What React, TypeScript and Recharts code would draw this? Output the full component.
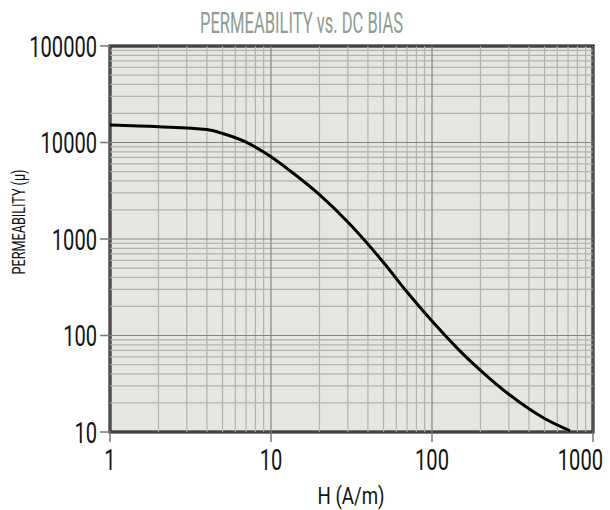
import { LineChart, Line, XAxis, YAxis, CartesianGrid, ReferenceLine, ReferenceArea } from 'recharts'

// H (A/m) vs permeability
const hValues = [1, 2, 4, 5, 7, 10, 13, 20, 30, 40, 50, 70, 100, 150, 200, 300, 400, 500, 720]
const muValues = [15200, 14600, 13600, 12400, 10100, 7100, 5150, 2880, 1500, 885, 570, 282, 141, 68.5, 43.5, 24.6, 17.4, 13.8, 10.3]

const xTicks = [1, 10, 100, 1000]
const yTicks = [10, 100, 1000, 10000, 100000]
const minorSteps = [2, 3, 4, 5, 6, 7, 8, 9]

const data = hValues.map((h, i) => ({ h, mu: muValues[i] }))

const minorOf = (ticks: number[]) =>
  ticks.slice(0, -1).flatMap((t) => minorSteps.map((k) => t * k))

const xMinor = minorOf(xTicks)
const yMinor = minorOf(yTicks)

const font = 'Roboto, "DejaVu Sans", sans-serif'

// narrow tick labels, the original uses a condensed face
const YTick = ({ x, y, payload }: any) => (
  <g transform={`translate(${x},${y})`}>
    <text transform="scale(0.67,1)" textAnchor="end" dy="0.36em" fontSize={30} fontFamily={font} fill="#111">
      {payload.value}
    </text>
  </g>
)

const XTick = ({ x, y, payload }: any) => {
  const last = payload.value === 1000
  return (
    <g transform={`translate(${last ? 603 : x},${y})`}>
      <text transform="scale(0.67,1)" textAnchor={last ? 'end' : 'middle'} dy="0.71em" fontSize={30} fontFamily={font} fill="#111">
        {payload.value}
      </text>
    </g>
  )
}

export default function App() {
  return (
    <div style={{ position: 'absolute', left: 0, top: 0, width: 610, height: 510, background: '#fff' }}>
      <LineChart width={610} height={510} data={data} margin={{ top: 46, right: 17, bottom: 48, left: 50 }}>
        <CartesianGrid fill="#e6e6e1" stroke="none" />
        {xMinor.map((v) => (
          <ReferenceLine key={'xm' + v} x={v} stroke="#b2b2ae" strokeWidth={1.2} />
        ))}
        {yMinor.map((v) => (
          <ReferenceLine key={'ym' + v} y={v} stroke="#b2b2ae" strokeWidth={1.2} />
        ))}
        {xTicks.map((v) => (
          <ReferenceLine key={'xM' + v} x={v} stroke="#848484" strokeWidth={1.2} />
        ))}
        {yTicks.map((v) => (
          <ReferenceLine key={'yM' + v} y={v} stroke="#848484" strokeWidth={1.2} />
        ))}
        <XAxis
          dataKey="h"
          type="number"
          scale="log"
          domain={[1, 1000]}
          ticks={xTicks}
          allowDataOverflow
          axisLine={false}
          height={30}
          tickSize={10}
          tickLine={{ stroke: '#777', strokeWidth: 1.5 }}
          tick={<XTick />}
          tickMargin={7}
        />
        <YAxis
          type="number"
          scale="log"
          domain={[10, 100000]}
          ticks={yTicks}
          allowDataOverflow
          width={60}
          axisLine={false}
          tickSize={10}
          tickLine={{ stroke: '#777', strokeWidth: 1.5 }}
          tick={<YTick />}
          tickMargin={3}
        />
        <Line
          type="monotone"
          dataKey="mu"
          stroke="#000"
          strokeWidth={3}
          dot={false}
          isAnimationActive={false}
        />
        <ReferenceArea x1={1} x2={1000} y1={10} y2={100000} fill="none" stroke="#000" strokeWidth={3} />
      </LineChart>
      <svg width={610} height={510} style={{ position: 'absolute', left: 0, top: 0, pointerEvents: 'none' }}>
        <text x={301.5} y={33} textAnchor="middle" fontSize={29} fontFamily={font} fill="#8d9c8d" textLength={203} lengthAdjust="spacingAndGlyphs">
          PERMEABILITY vs. DC BIAS
        </text>
        <text x={351} y={504} textAnchor="middle" fontSize={23} fontFamily={font} fill="#111" textLength={67} lengthAdjust="spacingAndGlyphs">
          H (A/m)
        </text>
        <text
          transform="translate(25,222) rotate(-90)"
          textAnchor="middle"
          fontSize={18}
          fontFamily={font}
          fill="#111"
          textLength={105}
          lengthAdjust="spacingAndGlyphs"
        >
          PERMEABILITY (μ)
        </text>
      </svg>
    </div>
  )
}
